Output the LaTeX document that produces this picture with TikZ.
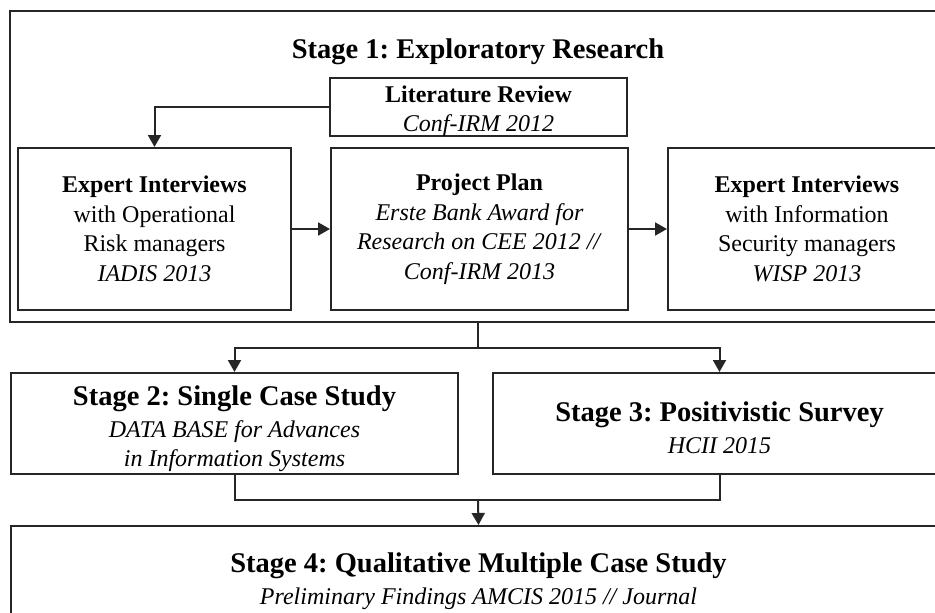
\documentclass[tikz,border=0pt]{standalone}
\usepackage{fontspec}
\setmainfont{Liberation Serif}
\usetikzlibrary{arrows.meta}
\tikzset{
  box/.style={draw=black!85, line width=2pt, inner sep=0pt, align=center,
    font=\fontsize{24}{29.5}\selectfont},
  boxtext/.style={inner sep=0pt, align=center, font=\fontsize{24}{29.5}\selectfont},
  arr/.style={draw=black!85, line width=2pt, -{Triangle[width=13pt,length=12pt]}},
  conn/.style={draw=black!85, line width=2pt},
  bigtitle/.style={font=\fontsize{28.5}{34}\selectfont\bfseries},
}
\frenchspacing
\begin{document}
\frenchspacing
\begin{tikzpicture}[x=1pt,y=-1pt]
\clip (0,0) rectangle (935,613);
\fill[white] (0,0) rectangle (935,613);
% Stage 1 outer box
\node[box, minimum width=936pt, minimum height=311pt] (s1) at (478,166.5) {};
\node[bigtitle, anchor=base] (t1) at (478,58) {Stage 1: Exploratory Research};
% Literature review
\node[box, minimum width=297pt, minimum height=58pt] (lit) at (478.5,107) {};
\node[boxtext] (littext) at ([yshift=-4pt]lit.center)
  {\textbf{Literature Review}\\\textit{Conf-IRM 2012}};
% Expert interviews 1
\node[box, minimum width=273pt, minimum height=162pt] (e1) at (154.5,229)
  {\textbf{Expert Interviews}\\with Operational\\Risk managers\\\textit{IADIS 2013}};
% Project plan
\node[box, minimum width=297pt, minimum height=162pt] (pp) at (479.5,229)
  {\textbf{Project Plan}\\\textit{Erste Bank Award for}\\\textit{Research on CEE 2012 //}\\\textit{Conf-IRM 2013}};
% Expert interviews 2
\node[box, minimum width=278pt, minimum height=162pt] (e2) at (807,229)
  {\textbf{Expert Interviews}\\with Information\\Security managers\\\textit{WISP 2013}};
% Stage 2
\node[box, minimum width=447pt, minimum height=101pt] (s2) at (234.5,423.5) {};
\node[boxtext] (s2text) at ([yshift=-5pt]s2.center)
  {{\fontsize{28.5}{34}\selectfont\bfseries Stage 2: Single Case Study}\\[2.5pt]\textit{DATA BASE for Advances}\\\textit{in Information Systems}};
% Stage 3
\node[box, minimum width=453pt, minimum height=101pt] (s3) at (719.5,423.5) {};
\node[boxtext] (s3text) at ([yshift=-4pt]s3.center)
  {{\fontsize{28.5}{34}\selectfont\bfseries Stage 3: Positivistic Survey}\\[2.5pt]\textit{HCII 2015}};
% Stage 4
\node[box, minimum width=935pt, minimum height=102pt] (s4) at (478.5,577) {};
\node[boxtext] (s4text) at ([yshift=-4pt]s4.center)
  {{\fontsize{28.5}{34}\selectfont\bfseries Stage 4: Qualitative Multiple Case Study}\\[2.5pt]\textit{Preliminary Findings AMCIS 2015 // Journal}};
% connectors
\draw[arr] (lit.west) -| (e1.north);
\draw[arr] (e1.east) -- (pp.west);
\draw[arr] (pp.east) -- (e2.west);
\coordinate (split) at (478,348);
\coordinate (join) at (478,500);
\draw[conn] (s1.south) -- (split);
\draw[arr] (split) -| (s2.north);
\draw[arr] (split) -| (s3.north);
\draw[conn] (s2.south) |- (join) -| (s3.south);
\draw[arr] (join) -- (s4.north);
\end{tikzpicture}
\end{document}
